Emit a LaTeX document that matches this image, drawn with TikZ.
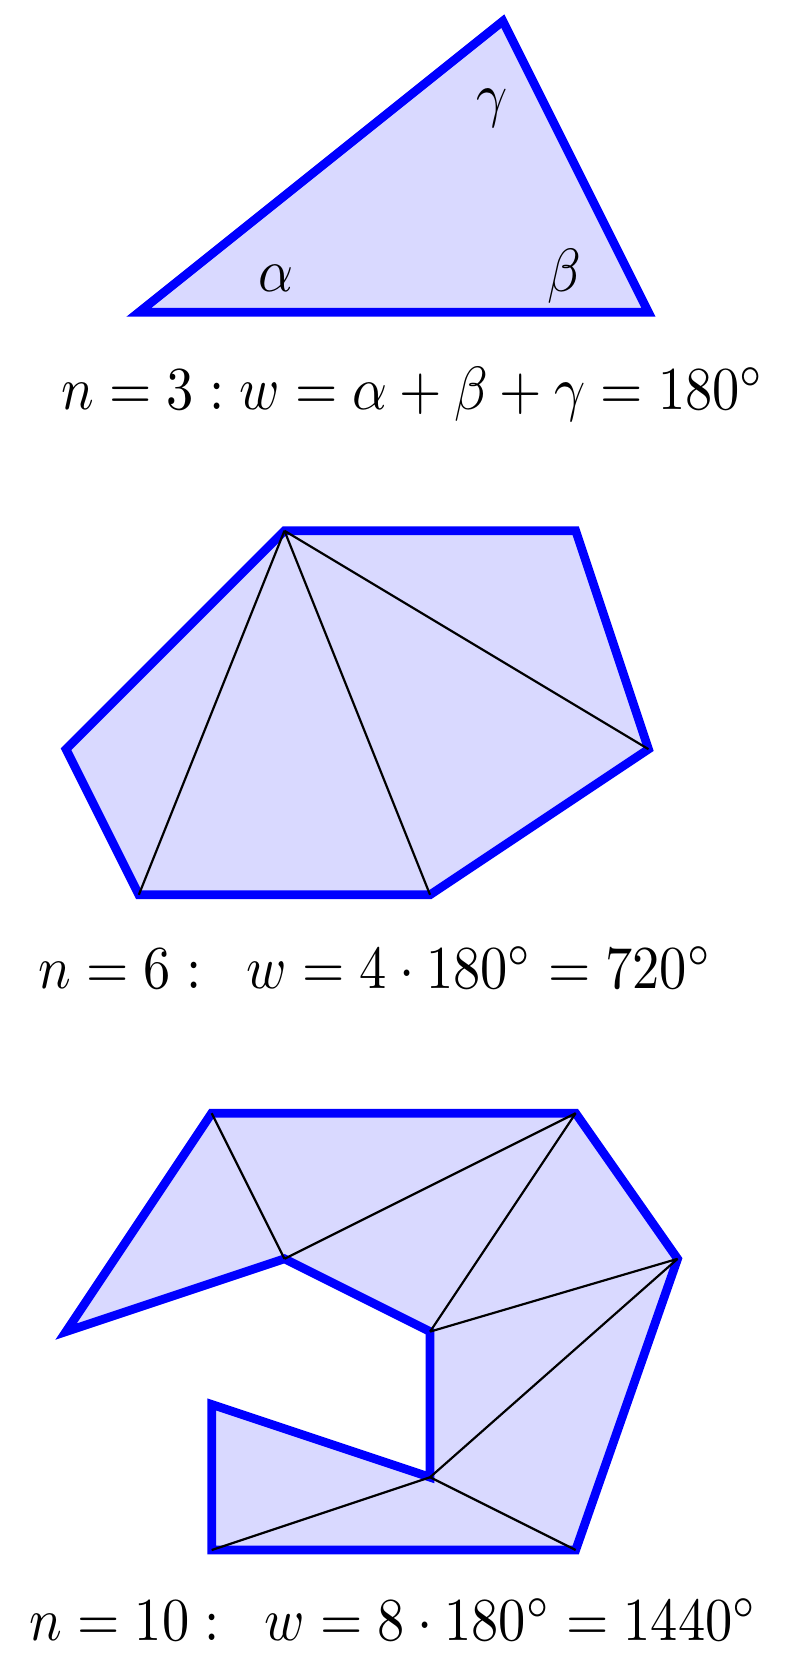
\documentclass[tikz,border=0pt]{standalone}
\usepackage{amsmath}
\usepackage{amssymb}
\usepackage{graphicx}
\newcommand{\tallmath}[1]{\scalebox{1}[1.12]{$#1$}}
\begin{document}
\begin{tikzpicture}[x=0.47cm,y=0.47cm,
        poly/.style={draw=blue,fill=blue!15,line width=1.6pt},
        diag/.style={draw=black,line width=0.4pt},
        formula/.style={anchor=base,inner sep=0pt}]

    \useasboundingbox (-0.907,-1.62) rectangle (10.08,21.29);

    \coordinate (t1) at (1,17);
    \coordinate (t2) at (8,17);
    \coordinate (t3) at (6,21);
    \draw[poly] (t1) -- (t2) -- (t3) -- cycle;
    \node (alpha) at (2.89,17.46) {\tallmath{\alpha}};
    \node (beta) at (6.84,17.5) {\tallmath{\beta}};
    \node (gamma) at (5.85,19.8) {\tallmath{\gamma}};
    \node[formula] (f3) at (4.77,15.67) {\tallmath{n=3: w=\alpha+\beta+\gamma=180^\circ}};

    \coordinate (h1) at (3,14);
    \coordinate (h2) at (7,14);
    \coordinate (h3) at (8,11);
    \coordinate (h4) at (5,9);
    \coordinate (h5) at (1,9);
    \coordinate (h6) at (0,11);
    \draw[poly] (h1) -- (h2) -- (h3) -- (h4) -- (h5) -- (h6) -- cycle;
    \draw[diag] (h1) -- (h5);
    \draw[diag] (h1) -- (h4);
    \draw[diag] (h1) -- (h3);
    \node[formula] (f6) at (4.25,7.71) {\tallmath{n=6:\;\; w=4\cdot180^\circ=720^\circ}};

    \coordinate (d1) at (2,6);
    \coordinate (d2) at (7,6);
    \coordinate (d3) at (8.4,4);
    \coordinate (d4) at (7,0);
    \coordinate (d5) at (2,0);
    \coordinate (d6) at (2,2);
    \coordinate (d7) at (5,1);
    \coordinate (d8) at (5,3);
    \coordinate (d9) at (3,4);
    \coordinate (d10) at (0,3);
    \draw[poly] (d1) -- (d2) -- (d3) -- (d4) -- (d5) -- (d6) -- (d7) -- (d8) -- (d9) -- (d10) -- cycle;
    \draw[diag] (d1) -- (d9);
    \draw[diag] (d9) -- (d2);
    \draw[diag] (d2) -- (d8);
    \draw[diag] (d8) -- (d3);
    \draw[diag] (d3) -- (d7);
    \draw[diag] (d7) -- (d5);
    \draw[diag] (d7) -- (d4);
    \node[formula] (f10) at (4.5,-1.24) {\tallmath{n=10:\;\; w=8\cdot180^\circ=1440^\circ}};
\end{tikzpicture}
\end{document}
